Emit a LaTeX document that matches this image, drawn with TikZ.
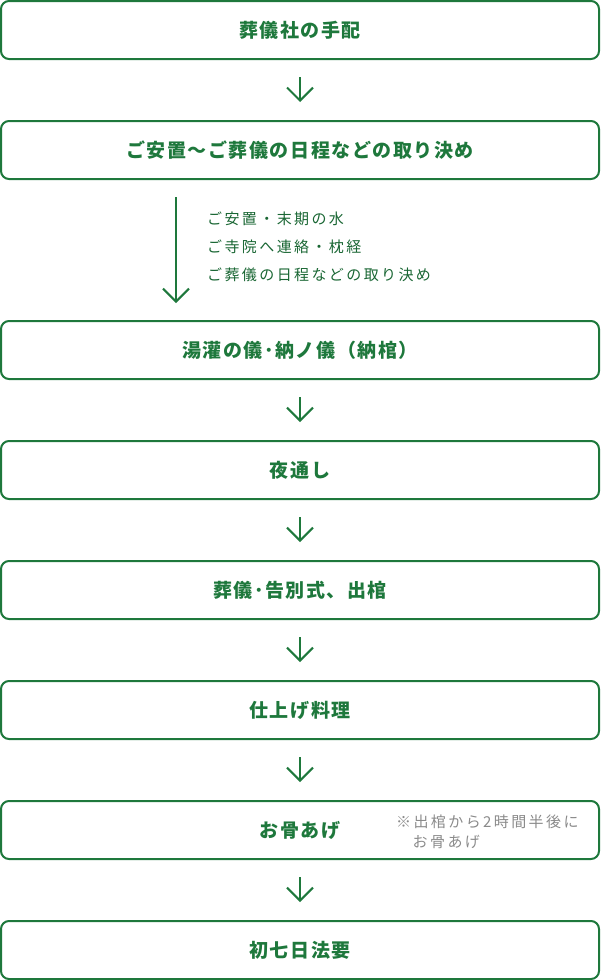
\documentclass[tikz,border=0pt]{standalone}
\usepackage{fontspec}
\newfontfamily\jpbox[LetterSpace=8]{Noto Sans CJK JP}
\newfontfamily\jpside[LetterSpace=16]{Noto Sans CJK JP}
\usetikzlibrary{arrows.meta}
\definecolor{fgreen}{HTML}{1E783C}
\definecolor{fgrey}{HTML}{8A8A8A}
\tikzset{
  stepbox/.style={draw=fgreen, line width=2pt, rounded corners=8pt, minimum width=598pt, minimum height=58pt, inner sep=0pt, text=fgreen, font=\jpbox\bfseries\fontsize{19}{22}\selectfont},
  arr/.style={draw=fgreen, line width=2pt, -{Straight Barb[length=13pt,width=26pt]}},
  sidetext/.style={inner sep=0pt, anchor=west, align=left, text=fgreen!85!black, font=\jpside\fontsize{15}{28}\selectfont},
  notetext/.style={inner sep=0pt, anchor=west, align=left, text=fgrey, font=\jpside\fontsize{15}{19.5}\selectfont}
}
\begin{document}
\begin{tikzpicture}[x=1pt,y=-1pt]
\useasboundingbox (0,0) rectangle (600,980);
\node[stepbox] (b1) at (300,30) {葬儀社の手配};
\node[stepbox] (b2) at (300,150) {ご安置〜ご葬儀の日程などの取り決め};
\node[stepbox] (b3) at (300,350) {湯灌の儀･納ノ儀（納棺）};
\node[stepbox] (b4) at (300,470) {夜通し};
\node[stepbox] (b5) at (300,590) {葬儀･告別式、出棺};
\node[stepbox] (b6) at (300,710) {仕上げ料理};
\node[stepbox] (b7) at (300,830) {お骨あげ};
\node[stepbox] (b8) at (300,950) {初七日法要};
\coordinate (ltop) at (176,197);
\coordinate (lend) at (176,303);
\draw[arr] ([yshift=-17pt]b1.south) -- ([yshift=18pt]b2.north);
\draw[arr] (ltop) -- (lend);
\draw[arr] ([yshift=-17pt]b3.south) -- ([yshift=18pt]b4.north);
\draw[arr] ([yshift=-17pt]b4.south) -- ([yshift=18pt]b5.north);
\draw[arr] ([yshift=-17pt]b5.south) -- ([yshift=18pt]b6.north);
\draw[arr] ([yshift=-17pt]b6.south) -- ([yshift=18pt]b7.north);
\draw[arr] ([yshift=-17pt]b7.south) -- ([yshift=18pt]b8.north);
\node[sidetext] (side) at (207,247) {ご安置・末期の水\\ご寺院へ連絡・枕経\\ご葬儀の日程などの取り決め};
\node[notetext] (note) at (396,832) {※出棺から2時間半後に\\\hspace*{16.5pt}お骨あげ};
\end{tikzpicture}
\end{document}
